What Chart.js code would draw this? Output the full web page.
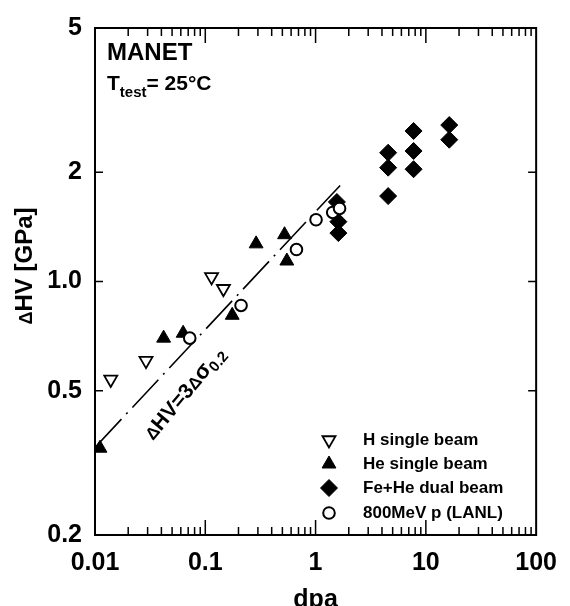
<!DOCTYPE html>
<html>
<head>
<meta charset="utf-8">
<script src="https://cdn.jsdelivr.net/npm/chart.js@4.4.0/dist/chart.umd.min.js"></script>
<style>
  html, body { margin: 0; padding: 0; background: #fff; }
  #wrap { width: 570px; height: 606px; }
</style>
</head>
<body>
<div id="wrap"><canvas id="hvChart" width="570" height="606"></canvas></div>
<script>
const FONT = "'Liberation Sans', Arial, Helvetica, sans-serif";

// hardness increase ΔHV [GPa] versus damage [dpa]
const hSingleDpa = [0.0139, 0.029, 0.114, 0.146];
const hSingleHv = [0.537, 0.605, 1.03, 0.955];
const heSingleDpa = [0.0111, 0.0419, 0.063, 0.1755, 0.289, 0.523, 0.549];
const heSingleHv = [0.347, 0.698, 0.72, 0.807, 1.27, 1.346, 1.139];
const dualDpa = [1.56, 1.61, 1.61, 4.55, 4.55, 4.55, 7.74, 7.74, 7.74, 16.3, 16.3];
const dualHv = [1.657, 1.462, 1.36, 2.265, 2.06, 1.72, 2.60, 2.29, 2.04, 2.70, 2.46];
const lanlDpa = [0.0723, 0.211, 0.671, 1.01, 1.43, 1.65];
const lanlHv = [0.698, 0.859, 1.225, 1.48, 1.55, 1.59];

// ΔHV = 3Δσ0.2 correlation
const fitDpa = [0.0101, 1.67];
const fitHv = [0.35, 1.84];

const xTickValues = [0.01, 0.1, 1, 10, 100];
const xTickLabels = ["0.01", "0.1", "1", "10", "100"];
const yTickValues = [0.2, 0.5, 1, 2, 5];
const yTickLabels = ["0.2", "0.5", "1.0", "2", "5"];

const toPoints = (xs, ys) => xs.map((v, i) => ({ x: v, y: ys[i] }));

const datasets = [
  {
    label: "H single beam",
    data: toPoints(hSingleDpa, hSingleHv),
    pointStyle: "triangle", rotation: 180, pointRadius: 7.5,
    backgroundColor: "#fff", borderColor: "#000", pointBorderWidth: 1.8,
    order: 2
  },
  {
    label: "He single beam",
    data: toPoints(heSingleDpa, heSingleHv),
    pointStyle: "triangle", pointRadius: 8,
    backgroundColor: "#000", borderColor: "#000", pointBorderWidth: 1,
    order: 2
  },
  {
    label: "Fe+He dual beam",
    data: toPoints(dualDpa, dualHv),
    pointStyle: "rectRot", pointRadius: 8.5,
    backgroundColor: "#000", borderColor: "#000", pointBorderWidth: 1,
    order: 3
  },
  {
    label: "800MeV p (LANL)",
    data: toPoints(lanlDpa, lanlHv),
    pointStyle: "circle", pointRadius: 5.8,
    backgroundColor: "#fff", borderColor: "#000", pointBorderWidth: 2,
    order: 1
  },
  {
    label: "fit",
    data: toPoints(fitDpa, fitHv),
    showLine: true, pointRadius: 0,
    borderColor: "#000", borderWidth: 1.6, borderDash: [38, 7, 2, 7],
    order: 5
  }
];

function boldFont(size) {
  return "bold " + size + "px " + FONT;
}

// writes a run of [text, size, dy] pieces from the current origin
function drawRuns(ctx, runs, x, y) {
  let cx = x;
  runs.forEach(([text, size, dy]) => {
    ctx.font = boldFont(size);
    ctx.fillText(text, cx, y + (dy || 0));
    cx += ctx.measureText(text).width;
  });
  return cx - x;
}

function runsWidth(ctx, runs) {
  let w = 0;
  runs.forEach(([text, size]) => {
    ctx.font = boldFont(size);
    w += ctx.measureText(text).width;
  });
  return w;
}

// frame, inward ticks, notes and legend
const decorations = {
  id: "decorations",
  afterDraw(chart) {
    const { ctx, chartArea: a } = chart;
    const x = chart.scales.x, y = chart.scales.y;
    ctx.save();
    ctx.strokeStyle = "#000";
    ctx.fillStyle = "#000";

    ctx.lineWidth = 2;
    ctx.strokeRect(a.left, a.top, a.right - a.left, a.bottom - a.top);

    ctx.lineWidth = 1.5;
    ctx.beginPath();
    for (let e = -2; e < 2; e++) {
      for (let m = 1; m <= 9; m++) {
        const v = m * Math.pow(10, e);
        const px = x.getPixelForValue(v);
        const len = m === 1 ? 15 : 8;
        ctx.moveTo(px, a.bottom); ctx.lineTo(px, a.bottom - len);
        ctx.moveTo(px, a.top); ctx.lineTo(px, a.top + len);
      }
    }
    yTickValues.forEach(v => {
      const py = y.getPixelForValue(v);
      ctx.moveTo(a.left, py); ctx.lineTo(a.left + 8, py);
      ctx.moveTo(a.right, py); ctx.lineTo(a.right - 8, py);
    });
    ctx.stroke();

    ctx.textBaseline = "alphabetic";
    ctx.textAlign = "left";

    // y axis title
    const yTitle = [["Δ", 18], ["HV [GPa]", 24]];
    ctx.save();
    ctx.translate(32, 266);
    ctx.rotate(-Math.PI / 2);
    drawRuns(ctx, yTitle, -runsWidth(ctx, yTitle) / 2, 0);
    ctx.restore();

    // material and test temperature
    ctx.font = boldFont(24);
    ctx.fillText("MANET", 107, 60);
    drawRuns(ctx, [["T", 21], ["test", 15, 7], ["= 25°C", 21]], 107, 90);

    // label along the correlation line
    ctx.save();
    ctx.translate(153, 441);
    ctx.rotate(-50 * Math.PI / 180);
    drawRuns(ctx, [["Δ", 17], ["HV=3", 21], ["Δ", 17], ["σ", 22], ["0.2", 15, 4]], 0, 0);
    ctx.restore();

    // legend
    const helpers = Chart.helpers;
    const rows = [440, 464, 488, 513];
    for (let i = 0; i < 4; i++) {
      const ds = chart.data.datasets[i];
      ctx.fillStyle = ds.backgroundColor;
      ctx.strokeStyle = ds.borderColor;
      ctx.lineWidth = ds.pointBorderWidth;
      helpers.drawPoint(ctx, {
        pointStyle: ds.pointStyle,
        rotation: ds.rotation || 0,
        radius: ds.pointRadius,
        borderWidth: ds.pointBorderWidth
      }, 329, rows[i]);
      ctx.fillStyle = "#000";
      ctx.font = boldFont(17);
      ctx.textBaseline = "middle";
      ctx.fillText(ds.label, 363, rows[i]);
    }
    ctx.restore();
  }
};

new Chart(document.getElementById("hvChart"), {
  type: "scatter",
  data: { datasets: datasets },
  options: {
    responsive: false,
    animation: false,
    layout: { padding: { top: 20, right: 25, left: 0, bottom: 0 } },
    plugins: { legend: { display: false }, tooltip: { enabled: false } },
    scales: {
      x: {
        type: "logarithmic", min: 0.01, max: 100,
        grid: { display: false, drawTicks: false },
        border: { display: false },
        afterBuildTicks: s => { s.ticks = xTickValues.map(v => ({ value: v })); },
        afterFit: s => { s.height = 71; },
        ticks: {
          color: "#000", padding: 13, maxRotation: 0, autoSkip: false,
          font: { family: FONT, size: 25, weight: "bold" },
          callback: (v, i) => xTickLabels[i]
        },
        title: {
          display: true, text: "dpa", color: "#000",
          font: { family: FONT, size: 25, weight: "bold", lineHeight: 0.45 },
          padding: { top: 0, bottom: 0 }
        }
      },
      y: {
        type: "logarithmic", min: 0.2, max: 5,
        grid: { display: false, drawTicks: false },
        border: { display: false },
        afterBuildTicks: s => { s.ticks = yTickValues.map(v => ({ value: v })); },
        afterFit: s => { s.width = 95; },
        ticks: {
          color: "#000", padding: 13, autoSkip: false,
          font: { family: FONT, size: 25, weight: "bold" },
          callback: (v, i) => yTickLabels[i]
        }
      }
    }
  },
  plugins: [decorations]
});
</script>
</body>
</html>
